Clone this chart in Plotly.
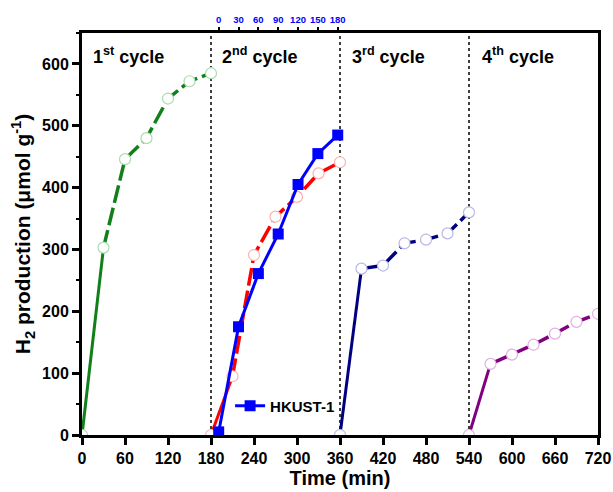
import plotly.graph_objects as go

# ---- data ----
cycle1_t = [0, 30, 60, 90, 120, 150, 180]
cycle1_h2 = [0, 303, 446, 480, 544, 572, 585]

cycle2_t = [180, 210, 240, 270, 300, 330, 360]
cycle2_h2 = [0, 95, 291, 353, 385, 423, 441]

cycle3_t = [360, 390, 420, 450, 480, 510, 540]
cycle3_h2 = [0, 269, 274, 310, 316, 326, 360]

cycle4_t = [540, 570, 600, 630, 660, 690, 720]
cycle4_h2 = [0, 115, 130, 146, 164, 183, 196]

hkust_t = [0, 30, 60, 90, 120, 150, 180]          # top axis (min)
hkust_h2 = [5, 175, 261, 325, 405, 455, 485]

cycle_bounds = [180, 360, 540]
cycle_labels = ["1<sup>st</sup> cycle", "2<sup>nd</sup> cycle",
                "3<sup>rd</sup> cycle", "4<sup>th</sup> cycle"]
cycle_label_x = [12, 193, 374, 555]

x_ticks = list(range(0, 721, 60))
y_ticks = list(range(0, 601, 100))
top_ticks = list(range(0, 181, 30))
top_minor = list(range(15, 180, 30))

cycles = [
    (cycle1_t, cycle1_h2, "#11801a", "#a9dcae"),
    (cycle2_t, cycle2_h2, "#ff0000", "#ffb0b0"),
    (cycle3_t, cycle3_h2, "#000080", "#b8b8e8"),
    (cycle4_t, cycle4_h2, "#800080", "#e0b0e0"),
]

font_fam = "Liberation Sans, Arial, sans-serif"

fig = go.Figure()

for t, h, col, edge in cycles:
    # first (jump) segment solid
    fig.add_trace(go.Scatter(x=t[:2], y=h[:2], mode="lines",
                             line=dict(color=col, width=3),
                             showlegend=False, hoverinfo="skip"))
    # remaining segments dashed
    fig.add_trace(go.Scatter(x=t[1:], y=h[1:], mode="lines",
                             line=dict(color=col, width=3.5, dash="18px,5px"),
                             showlegend=False, hoverinfo="skip"))
    fig.add_trace(go.Scatter(x=t, y=h, mode="markers",
                             marker=dict(symbol="circle", size=11, color="white",
                                         line=dict(color=edge, width=1.2)),
                             showlegend=False))

fig.add_trace(go.Scatter(x=hkust_t, y=hkust_h2, mode="lines+markers",
                         name="HKUST-1", xaxis="x2",
                         line=dict(color="#0000ff", width=3),
                         marker=dict(symbol="square", size=11, color="#0000ff")))

for b in cycle_bounds:
    fig.add_shape(type="line", x0=b, x1=b, y0=0, y1=1, xref="x", yref="paper",
                  line=dict(color="black", width=1.5, dash="dot"), layer="below")

for lbl, lx in zip(cycle_labels, cycle_label_x):
    fig.add_annotation(x=lx, y=614, xref="x", yref="y", text=lbl, showarrow=False,
                       xanchor="left", yanchor="middle",
                       font=dict(size=18, color="black", weight="bold",
                                 family=font_fam))

fig.update_layout(
    width=613, height=492,
    margin=dict(l=82, r=15, t=33, b=57),
    plot_bgcolor="white", paper_bgcolor="white",
    font=dict(family=font_fam, color="black"),
    xaxis=dict(range=[0, 720], tickvals=x_ticks, ticks="outside", ticklen=7,
               tickwidth=2.5, tickcolor="black", showline=True, linewidth=3,
               linecolor="black", mirror=True, showgrid=False, zeroline=False,
               automargin=False,
               tickfont=dict(size=16, weight="bold", family=font_fam),
               title=dict(text="Time (min)", standoff=4,
                          font=dict(size=20, weight="bold", family=font_fam))),
    xaxis2=dict(overlaying="x", side="top", anchor="y",
                range=[-206.7, 573.6], tickvals=top_ticks, ticks="outside",
                ticklen=5, tickwidth=2, tickcolor="black", showline=False,
                showgrid=False, zeroline=False, automargin=False,
                minor=dict(tickvals=top_minor, ticks="outside", ticklen=2.5,
                           tickwidth=2, tickcolor="black", showgrid=False),
                tickfont=dict(size=9.5, color="#0000ff", weight="bold", family=font_fam)),
    yaxis=dict(range=[0, 650], tickvals=y_ticks, ticks="outside", ticklen=7,
               tickwidth=2.5, tickcolor="black", showline=True, linewidth=3,
               linecolor="black", mirror=True, showgrid=False, zeroline=False,
               automargin=False,
               minor=dict(dtick=50, tick0=0, ticks="outside", ticklen=3,
                          tickwidth=2, tickcolor="black", showgrid=False),
               tickfont=dict(size=16, weight="bold", family=font_fam),
               title=dict(text="H<sub>2</sub> production (μmol g<sup>-1</sup>)",
                          standoff=6,
                          font=dict(size=21, weight="bold", family=font_fam))),
    legend=dict(x=0.287, y=0.072, xanchor="left", yanchor="middle",
                bgcolor="rgba(0,0,0,0)",
                font=dict(size=15, weight="bold", family=font_fam)),
)

fig.write_html("out.html", config={"displayModeBar": False},
               post_script="document.body.style.margin='0';"
                           "document.body.style.overflow='hidden';")
